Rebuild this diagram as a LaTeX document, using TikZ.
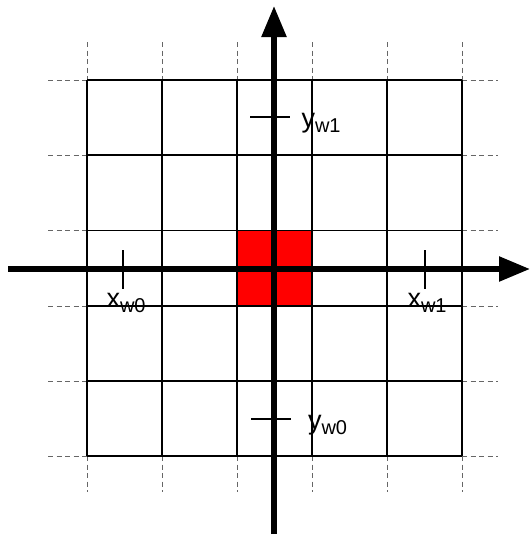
\documentclass[tikz,border=0pt]{standalone}
\usepackage{fontspec}
\setmainfont{Liberation Sans}
\usetikzlibrary{arrows.meta}
\tikzset{
  gridline/.style={line width=1.8pt, black},
  guide/.style={line width=0.9pt, gray!80!black, dash pattern=on 5pt off 3.5pt},
  axis/.style={line width=5.5pt, black, -{Triangle[length=31pt,width=24pt]}},
  tick/.style={line width=2.8pt, black},
  lbl/.style={anchor=base west, inner sep=0pt, outer sep=0pt},
}
\newcommand{\mainsz}{\fontsize{27}{30}\selectfont}
\newcommand{\subsz}{\fontsize{20}{23}\selectfont}
\newcommand{\lab}[2]{{\mainsz #1}\raisebox{-5pt}{\subsz #2}}
\begin{document}
\begin{tikzpicture}[x=1pt,y=-1pt]
\useasboundingbox (0,0) rectangle (530,536);
% red cell
\fill[red] (237,230.5) rectangle (312,306);
% guide dashes
\foreach \x in {87,162,237,312,387,462}{
  \draw[guide] (\x,42) -- (\x,80);
  \draw[guide] (\x,456) -- (\x,492);
}
\foreach \y in {80,155,230.5,306,381,456}{
  \draw[guide] (48,\y) -- (87,\y);
  \draw[guide] (462,\y) -- (498,\y);
}
% grid
\foreach \x in {87,162,237,312,387,462}{
  \draw[gridline] (\x,80) -- (\x,456);
}
\foreach \y in {80,155,230.5,306,381,456}{
  \draw[gridline] (87,\y) -- (462,\y);
}
% axes
\coordinate (xl) at (8,269);
\coordinate (xr) at (530,269);
\coordinate (yb) at (274,534);
\coordinate (yt) at (274,6);
\draw[axis] (xl) -- (xr);
\draw[axis] (yb) -- (yt);
% ticks
\coordinate (tx0a) at (123,250); \coordinate (tx0b) at (123,289);
\coordinate (tx1a) at (425,250); \coordinate (tx1b) at (425,289);
\coordinate (ty1a) at (250,117); \coordinate (ty1b) at (290,117);
\coordinate (ty0a) at (251,419); \coordinate (ty0b) at (291,419);
\draw[tick] (tx0a) -- (tx0b);
\draw[tick] (tx1a) -- (tx1b);
\draw[tick] (ty1a) -- (ty1b);
\draw[tick] (ty0a) -- (ty0b);
% labels
\node[lbl] (xw0) at (106.5,307.5) {\lab{x}{w0}};
\node[lbl] (xw1) at (407.5,307.5) {\lab{x}{w1}};
\node[lbl] (yw1) at (301.5,127) {\lab{y}{w1}};
\node[lbl] (yw0) at (308,429) {\lab{y}{w0}};
\end{tikzpicture}
\end{document}
